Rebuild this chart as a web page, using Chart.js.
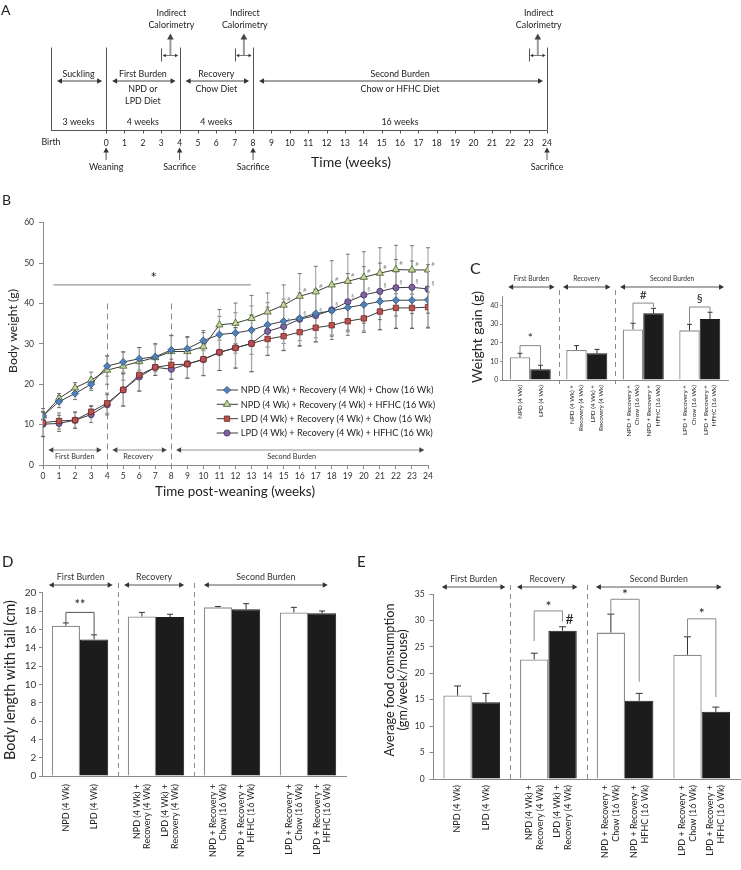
<!DOCTYPE html>
<html><head><meta charset="utf-8">
<script src="https://cdn.jsdelivr.net/npm/chart.js@4.4.1/dist/chart.umd.min.js"></script>
<style>
html,body{margin:0;padding:0;background:#fff}
body{position:relative;width:741px;height:870px;overflow:hidden}
canvas{position:absolute;display:block}
</style></head><body>
<canvas id="cA" width="741" height="185" style="left:0px;top:0px;width:741px;height:185px"></canvas>
<canvas id="cB" width="440" height="310" style="left:0px;top:190px;width:440px;height:310px"></canvas>
<canvas id="cC" width="301" height="200" style="left:440px;top:250px;width:301px;height:200px"></canvas>
<canvas id="cD" width="355" height="325" style="left:0px;top:545px;width:355px;height:325px"></canvas>
<canvas id="cE" width="386" height="325" style="left:355px;top:545px;width:386px;height:325px"></canvas>
<script>
// ---------------- DATA ----------------
// Panel A: study timeline
const timelineWeeks = [0,1,2,3,4,5,6,7,8,9,10,11,12,13,14,15,16,17,18,19,20,21,22,23,24];
const timelineBoundaries = [-3,0,4,8,24];
const phaseNames = ['Suckling','First Burden','Recovery','Second Burden'];
const phaseDiets = [[], ['NPD or','LPD Diet'], ['Chow Diet'], ['Chow or HFHC Diet']];
const phaseStart = [-3,0,4,8];
const phaseEnd = [0,4,8,24];
const phaseDurations = ['3 weeks','4 weeks','4 weeks','16 weeks'];
const calorimetryWeeks = [3,7,23];
const eventWeeks = [0,4,8,24];
const eventNames = ['Weaning','Sacrifice','Sacrifice','Sacrifice'];

// Panel B: body weight (g) per week post-weaning
const weeks = [0,1,2,3,4,5,6,7,8,9,10,11,12,13,14,15,16,17,18,19,20,21,22,23,24];
const seriesNames = [
  'NPD (4 Wk) + Recovery (4 Wk) + Chow (16 Wk)',
  'NPD (4 Wk) + Recovery (4 Wk) + HFHC (16 Wk)',
  'LPD (4 Wk) + Recovery (4 Wk) + Chow (16 Wk)',
  'LPD (4 Wk) + Recovery (4 Wk) + HFHC (16 Wk)'];
const npdChow   = [12.2,15.7,17.7,20.0,24.5,25.5,26.3,26.8,28.5,28.8,30.8,32.3,32.7,33.4,34.7,35.6,36.3,37.5,38.2,39.0,39.7,40.5,40.8,40.8,40.9];
const npdChowSd = [1.0,1.5,1.5,1.5,2.5,2.5,2.8,3.0,3.5,3.0,2.5,4.5,5.0,6.0,5.5,5.5,5.5,6.0,6.0,6.0,6.5,7.0,7.0,7.0,7.0];
const npdHfhc   = [12.2,16.5,19.1,21.0,23.5,24.5,25.6,26.6,28.1,28.1,29.3,34.7,35.1,36.3,37.9,39.6,41.8,42.9,44.6,45.5,46.5,47.5,48.4,48.3,48.3];
const npdHfhcSd = [1.0,1.2,1.3,2.0,3.5,3.5,3.5,3.5,4.0,3.5,3.5,3.8,5.0,5.7,4.7,5.0,5.6,6.3,6.0,6.7,6.3,6.3,6.0,6.0,5.5];
const lpdChow   = [10.5,10.9,11.1,13.2,15.3,18.6,22.3,24.2,24.8,25.0,26.2,27.9,29.0,30.1,31.2,31.9,32.9,34.0,34.6,35.6,36.3,38.0,38.9,38.9,39.1];
const lpdChowSd = [3.5,2.0,2.0,1.5,2.5,4.0,4.0,2.0,3.5,3.5,4.0,4.5,5.0,7.0,4.0,3.5,3.5,3.5,3.5,3.5,3.5,4.5,5.0,5.0,5.0];
const lpdHfhc   = [10.1,10.3,11.1,12.5,14.9,18.6,21.8,24.2,23.7,25.0,26.1,27.9,29.0,30.1,33.1,34.3,36.1,37.0,38.4,40.4,42.1,43.0,43.9,44.0,43.6];
const lpdHfhcSd = [3.0,2.0,2.0,2.0,2.5,4.0,3.5,2.0,2.5,3.5,4.0,4.5,5.0,7.0,6.0,6.0,6.5,6.5,6.5,7.0,7.0,7.0,7.0,6.5,6.0];
const hashWeeks = [15,16,17,18,19,20,21,22,23,24];     // '#' on NPD+HFHC
const sectionWeeks = [15,16,17,18,19,20,21,22,23,24];  // '§' on LPD+HFHC
const burdenNames = ['First Burden','Recovery','Second Burden'];

// Panels C, D, E: bars (order: white, black, white, black ...)
const barGroups = ['First Burden','Recovery','Second Burden (NPD)','Second Burden (LPD)'];
const barLabels = [
  ['NPD (4 Wk)'], ['LPD (4 Wk)'],
  ['NPD (4 Wk) +','Recovery (4 Wk)'], ['LPD (4 Wk) +','Recovery (4 Wk)'],
  ['NPD + Recovery +','Chow (16 Wk)'], ['NPD + Recovery +','HFHC (16 Wk)'],
  ['LPD + Recovery +','Chow (16 Wk)'], ['LPD + Recovery +','HFHC (16 Wk)']];
const weightGain   = [12.2,5.7,16.1,14.3,27.1,35.7,26.6,32.7];
const weightGainSd = [2.1,2.2,2.3,2.1,3.3,2.7,3.2,3.6];
const bodyLength   = [16.4,14.9,17.4,17.35,18.4,18.2,17.85,17.75];
const bodyLengthSd = [0.3,0.5,0.45,0.3,0.1,0.6,0.55,0.25];
const foodIntake   = [15.8,14.5,22.6,28.05,27.7,14.8,23.5,12.7];
const foodIntakeSd = [1.8,1.7,1.2,0.75,3.5,1.4,3.4,0.9];

// ---------------- HELPERS ----------------
const FONT = 'Lato, "Open Sans", sans-serif';
const fnt = (s,w)=>`${w||'normal'} ${s}px ${FONT}`;
function fit(ctx,s,width,w){ctx.save();ctx.font=fnt(20,w);const m=ctx.measureText(s).width;ctx.restore();return 20*width/m;}
function T(ctx,s,x,y,o){o=o||{};ctx.save();ctx.font=fnt(o.size||10,o.weight);ctx.fillStyle=o.color||'#222';
  ctx.textAlign=o.align||'center';ctx.textBaseline=o.base||'middle';ctx.translate(x,y);if(o.rot)ctx.rotate(o.rot);ctx.fillText(s,0,0);ctx.restore();}
function L(ctx,x1,y1,x2,y2,c,w,dash){ctx.save();ctx.strokeStyle=c||'#555';ctx.lineWidth=w||1;if(dash)ctx.setLineDash(dash);
  ctx.beginPath();ctx.moveTo(x1,y1);ctx.lineTo(x2,y2);ctx.stroke();ctx.restore();}
function head(ctx,x,y,dir,s,c){ctx.save();ctx.fillStyle=c||'#333';ctx.beginPath();ctx.moveTo(x,y);const k=0.55;
  if(dir==='l'){ctx.lineTo(x+s,y-s*k);ctx.lineTo(x+s,y+s*k);}
  else if(dir==='r'){ctx.lineTo(x-s,y-s*k);ctx.lineTo(x-s,y+s*k);}
  else if(dir==='u'){ctx.lineTo(x-s*k,y+s);ctx.lineTo(x+s*k,y+s);}
  else {ctx.lineTo(x-s*k,y-s);ctx.lineTo(x+s*k,y-s);}
  ctx.closePath();ctx.fill();ctx.restore();}
function dbl(ctx,x1,x2,y,c,hc,w,s){L(ctx,x1+s*0.5,y,x2-s*0.5,y,c,w);head(ctx,x1,y,'l',s,hc);head(ctx,x2,y,'r',s,hc);}
function marker(ctx,style,x,y,r,fill,stroke){ctx.save();ctx.fillStyle=fill;ctx.strokeStyle=stroke;ctx.lineWidth=0.8;
  if(Chart.helpers&&Chart.helpers.drawPoint){Chart.helpers.drawPoint(ctx,{pointStyle:style,radius:r,rotation:0,borderWidth:0.8},x,y);}
  else{ctx.beginPath();ctx.arc(x,y,r,0,Math.PI*2);ctx.fill();ctx.stroke();}
  ctx.restore();}
const baseOpts = {responsive:false,animation:false,events:[],plugins:{legend:{display:false},tooltip:{enabled:false}}};

// ---------------- PANEL A ----------------
new Chart(document.getElementById('cA'),{
  type:'scatter',
  data:{datasets:[{data:[]}]},
  options:Object.assign({},baseOpts,{
    layout:{padding:{left:51,right:194,top:0,bottom:0}},
    scales:{x:{type:'linear',min:-3,max:24,display:false},y:{min:0,max:1,display:false}}
  }),
  plugins:[{id:'pA',afterDraw(chart){
    const ctx=chart.ctx,X=v=>chart.scales.x.getPixelForValue(v);
    const fs=fit(ctx,'First Burden',48), ts=8.5;
    T(ctx,'A',1,10.5,{size:14,align:'left'});
    const axY=130.5;
    L(ctx,X(-3),axY,X(24),axY,'#555',1);
    timelineWeeks.forEach(w=>{const x=Math.round(X(w))+0.5;L(ctx,x,axY,x,axY+3,'#555',1);T(ctx,String(w),X(w),143.5,{size:ts});});
    T(ctx,'Birth',X(-3),142.5,{size:fs});
    timelineBoundaries.forEach(w=>{const x=Math.round(X(w))+0.5;L(ctx,x,47.5,x,axY,'#555',1);});
    phaseNames.forEach((n,i)=>{
      const a=phaseStart[i],b=phaseEnd[i],c=(a+b)/2;
      T(ctx,n,X(c),74,{size:fs});
      dbl(ctx,X(a)+6,X(b)-4,81,'#444','#333',1,5);
      phaseDiets[i].forEach((d,k)=>T(ctx,d,X(c),89.5+k*11.5,{size:fs}));
      T(ctx,phaseDurations[i],X(c),122.5,{size:fs});
    });
    calorimetryWeeks.forEach(w=>{
      const x0=Math.round(X(w))+0.5;
      L(ctx,x0,48.5,x0,61.5,'#555',1);
      dbl(ctx,X(w)+1.5,X(w+1)-1.5,55.5,'#555','#333',0.8,3);
      const xm=X(w+0.5);
      L(ctx,xm,55,xm,39,'#9a9a9a',2);
      head(ctx,xm,33.5,'u',6,'#444');
      T(ctx,'Indirect',X(w+0.55),13,{size:fs});
      T(ctx,'Calorimetry',X(w+0.55),25,{size:fs});
    });
    eventWeeks.forEach((w,i)=>{
      const x=X(w);
      L(ctx,x,160,x,151,'#555',1);
      head(ctx,x,147.5,'u',5,'#333');
      T(ctx,eventNames[i],x,167,{size:fs});
    });
    T(ctx,'Time (weeks)',351,162,{size:fit(ctx,'Time (weeks)',80)});
  }}]
});

// ---------------- PANEL B ----------------
const seriesVals=[npdChow,npdHfhc,lpdChow,lpdHfhc];
const seriesSd=[npdChowSd,npdHfhcSd,lpdChowSd,lpdHfhcSd];
const mStyle=['rectRot','triangle','rect','circle'];
const mRad=[3.6,4.2,3.8,3.1];
const mFill=['#4f81bd','#c3d69b','#c0504d','#8064a2'];
const mStroke=['#2f4f7a','#4a5a2a','#6a2a28','#3e3060'];
new Chart(document.getElementById('cB'),{
  type:'line',
  data:{datasets:seriesVals.map((v,i)=>({
    label:seriesNames[i],
    data:weeks.map((w,j)=>({x:w,y:v[j]})),
    borderColor:'#3c3c3c',borderWidth:1,tension:0,fill:false,
    pointStyle:mStyle[i],pointRadius:mRad[i],pointBackgroundColor:mFill[i],pointBorderColor:mStroke[i],pointBorderWidth:0.8
  }))},
  options:Object.assign({},baseOpts,{
    layout:{padding:{left:0,right:12,top:32.7,bottom:0}},
    scales:{
      x:{type:'linear',min:0,max:24,
        ticks:{stepSize:1,autoSkip:false,maxRotation:0,font:{family:FONT,size:8.5},color:'#333',padding:2},
        grid:{drawOnChartArea:false,tickLength:4,color:'#8a8a8a'},border:{color:'#8a8a8a'},
        afterFit:s=>{s.height=35;}},
      y:{min:0,max:60,
        ticks:{stepSize:10,font:{family:FONT,size:8.5},color:'#333',padding:5},
        grid:{drawOnChartArea:false,tickLength:4,color:'#8a8a8a'},border:{color:'#8a8a8a'},
        afterFit:s=>{s.width=43;}}
    }
  }),
  plugins:[{id:'pB',
    beforeDatasetsDraw(chart){
      const ctx=chart.ctx,X=v=>chart.scales.x.getPixelForValue(v),Y=v=>chart.scales.y.getPixelForValue(v);
      [4,8].forEach(w=>{const x=Math.round(X(w))+0.5;L(ctx,x,Y(40),x,Y(0),'#8a8a8a',1,[6,4]);});
      L(ctx,X(0.65),Y(44.6),X(12.95),Y(44.6),'#9a9a9a',1.2);
      seriesVals.forEach((v,i)=>weeks.forEach((w,j)=>{
        const x=X(w),y1=Y(v[j]-seriesSd[i][j]),y2=Y(v[j]+seriesSd[i][j]);
        L(ctx,x,y1,x,y2,'#a8a8a8',1.2);
        L(ctx,x-2,y1,x+2,y1,'#555',0.8);L(ctx,x-2,y2,x+2,y2,'#555',0.8);
      }));
      const spans=[[0.33,3.66],[4.32,7.72],[8.3,23.77]],cent=[1.98,5.93,15.5];
      const bs=fit(ctx,'Second Burden',49);
      burdenNames.forEach((n,i)=>{
        dbl(ctx,X(spans[i][0]),X(spans[i][1]),Y(3.7),'#b4b4b4','#444',1.5,5);
        T(ctx,n,X(cent[i]),Y(2.0),{size:bs,color:'#333'});
      });
    },
    afterDatasetsDraw(chart){
      const ctx=chart.ctx,X=v=>chart.scales.x.getPixelForValue(v),Y=v=>chart.scales.y.getPixelForValue(v);
      T(ctx,'*',X(6.9),Y(46.2),{size:15});
      hashWeeks.forEach(w=>T(ctx,'#',X(w)+5,Y(npdHfhc[weeks.indexOf(w)])-6,{size:6,color:'#888'}));
      sectionWeeks.forEach(w=>T(ctx,'§',X(w)+5,Y(lpdHfhc[weeks.indexOf(w)])-6,{size:6,color:'#888'}));
      const ls=fit(ctx,seriesNames[0],193);
      const rows=[200,214.3,228.7,243];
      seriesNames.forEach((n,i)=>{
        L(ctx,216.7,rows[i],238,rows[i],'#3c3c3c',1);
        marker(ctx,mStyle[i],227,rows[i],mRad[i],mFill[i],mStroke[i]);
        T(ctx,n,240.7,rows[i]+0.5,{size:ls,align:'left'});
      });
      T(ctx,'B',2,10,{size:14,align:'left'});
      T(ctx,'Body weight (g)',13,141,{size:fit(ctx,'Body weight (g)',84),rot:-Math.PI/2});
      T(ctx,'Time post-weaning (weeks)',235,302,{size:fit(ctx,'Time post-weaning (weeks)',160)});
    }
  }]
});

// ---------------- BAR PANELS ----------------
function barPanel(id,values,errs,o){
  const white=values.filter((v,i)=>i%2===0), black=values.filter((v,i)=>i%2===1);
  return new Chart(document.getElementById(id),{
    type:'bar',
    data:{labels:barGroups,datasets:[
      {data:white,backgroundColor:'#ffffff',borderColor:'#8c8c8c',borderWidth:1.3,barPercentage:1,categoryPercentage:o.catPct},
      {data:black,backgroundColor:'#1c1c1c',borderColor:'#1c1c1c',borderWidth:1,barPercentage:1,categoryPercentage:o.catPct}]},
    options:Object.assign({},baseOpts,{
      layout:{padding:{left:0,right:o.padRight,top:o.padTop,bottom:0}},
      scales:{
        x:{grid:{display:false},ticks:{display:false},border:{color:'#8a8a8a'},afterFit:s=>{s.height=o.xAxisH;}},
        y:{min:0,max:o.yMax,ticks:{stepSize:o.yStep,font:{family:FONT,size:o.tickSize},color:'#333',padding:o.tickPad},
          grid:{drawOnChartArea:false,tickLength:o.tickLen,color:'#8a8a8a'},border:{color:'#8a8a8a'},
          afterFit:s=>{s.width=o.yAxisW;}}
      }
    }),
    plugins:[{id:'p'+id,afterDatasetsDraw(chart){
      const ctx=chart.ctx,xs=chart.scales.x,Y=v=>chart.scales.y.getPixelForValue(v);
      const bx=i=>chart.getDatasetMeta(i%2).data[Math.floor(i/2)].x;
      const c0=xs.getPixelForValue(0),cw=xs.getPixelForValue(1)-c0,G=v=>c0+v*cw;
      const bottom=chart.chartArea.bottom;
      values.forEach((v,i)=>{const x=bx(i),y1=Y(v),y2=Y(v+errs[i]);
        L(ctx,x,y1,x,y2,'#333',1);L(ctx,x-o.capHalf,y2,x+o.capHalf,y2,'#333',1);});
      [0.5,1.5].forEach(g=>{const x=Math.round(G(g))+0.5;L(ctx,x,o.dashTop,x,bottom+4,'#8a8a8a',1,[5,4]);});
      const hs=fit(ctx,'First Burden',o.headerW);
      burdenNames.forEach((n,k)=>{const sp=o.spans[k];
        T(ctx,n,(G(sp[0])+G(sp[1]))/2,o.headerY,{size:hs,color:'#333'});
        dbl(ctx,G(sp[0]),G(sp[1]),o.arrowY,'#555','#333',1,5);});
      o.brackets.forEach(b=>{const xa=bx(b.a),xb=bx(b.b),yt=Y(b.top);
        ctx.save();ctx.strokeStyle=o.bracketColor;ctx.lineWidth=1;ctx.beginPath();
        ctx.moveTo(xa,Y(b.aEnd));ctx.lineTo(xa,yt);ctx.lineTo(xb,yt);ctx.lineTo(xb,Y(b.bEnd));ctx.stroke();ctx.restore();
        T(ctx,b.label,(xa+xb)/2,Y(b.labelV),{size:o.sigSize});});
      (o.extra||[]).forEach(e=>T(ctx,e.label,bx(e.bar)+e.dx,Y(e.value),{size:o.sigSize}));
      const lsz=fit(ctx,'Recovery (4 Wk)',o.labelRef);
      barLabels.forEach((lines,i)=>{
        ctx.save();ctx.translate(bx(i),bottom+o.labelGap);ctx.rotate(-Math.PI/2);
        ctx.font=fnt(lsz);ctx.fillStyle='#222';ctx.textAlign='right';ctx.textBaseline='middle';
        lines.forEach((s,k)=>ctx.fillText(s,0,(k-(lines.length-1)/2)*o.lineGap));
        ctx.restore();});
      const tsz=fit(ctx,o.title[0],o.titleW);
      o.title.forEach((s,k)=>T(ctx,s,o.titleX[k],o.titleY,{size:tsz,rot:-Math.PI/2}));
      T(ctx,o.letter,o.letterX,o.letterY,{size:o.letterSize,align:'left'});
    }}]
  });
}

barPanel('cC',weightGain,weightGainSd,{
  yMax:45,yStep:5,tickSize:7,tickLen:2,tickPad:1.7,yAxisW:62,padRight:13,padTop:46,xAxisH:70,catPct:0.726,
  labelRef:46,labelGap:5,lineGap:8.6,title:['Weight gain (g)'],titleX:[37],titleY:87,titleW:92,
  headerY:29,arrowY:37,headerW:36,spans:[[-0.39,0.43],[0.58,1.42],[1.59,3.43]],dashTop:40,
  brackets:[{a:0,b:1,top:18.4,aEnd:14.3,bEnd:7.9,label:'*',labelV:22.6},
            {a:4,b:5,top:41.2,aEnd:30.5,bEnd:39.1,label:'#',labelV:45.3},
            {a:6,b:7,top:39.1,aEnd:30.0,bEnd:36.5,label:'§',labelV:43.7}],
  bracketColor:'#888',sigSize:12,capHalf:2.5,letter:'C',letterX:30,letterY:19,letterSize:16});

barPanel('cD',bodyLength,bodyLengthSd,{
  yMax:20,yStep:2,tickSize:10,tickLen:3,tickPad:2.7,yAxisW:42,padRight:9,padTop:47.7,xAxisH:94,catPct:0.742,
  labelRef:65,labelGap:8,lineGap:10,title:['Body length with tail (cm)'],titleX:[10],titleY:135,titleW:160,
  headerY:32,arrowY:40,headerW:48,spans:[[-0.41,0.43],[0.58,1.37],[1.63,3.26]],dashTop:38,
  brackets:[{a:0,b:1,top:17.85,aEnd:16.7,bEnd:15.4,label:'**',labelV:18.7}],
  bracketColor:'#555',sigSize:13,capHalf:3,letter:'D',letterX:2,letterY:17,letterSize:15});

barPanel('cE',foodIntake,foodIntakeSd,{
  yMax:35,yStep:5,tickSize:8.5,tickLen:4,tickPad:4.7,yAxisW:78.4,padRight:1,padTop:49,xAxisH:91,catPct:0.74,
  labelRef:65,labelGap:6,lineGap:11,title:['Average food comsumption','(gm/week/mouse)'],titleX:[35,48.3],titleY:135,titleW:153,
  headerY:34,arrowY:42,headerW:47,spans:[[-0.39,0.44],[0.59,1.38],[1.62,3.26]],dashTop:40,
  brackets:[{a:2,b:3,top:31.8,aEnd:26.1,bEnd:29.8,label:'*',labelV:32.7},
            {a:4,b:5,top:34.0,aEnd:31.4,bEnd:18.4,label:'*',labelV:34.9},
            {a:6,b:7,top:30.3,aEnd:27.05,bEnd:15.5,label:'*',labelV:31.3}],
  extra:[{bar:3,value:30.2,dx:7,label:'#'}],
  bracketColor:'#8a8a8a',sigSize:14,capHalf:3.5,letter:'E',letterX:2,letterY:17,letterSize:15});
</script></body></html>
